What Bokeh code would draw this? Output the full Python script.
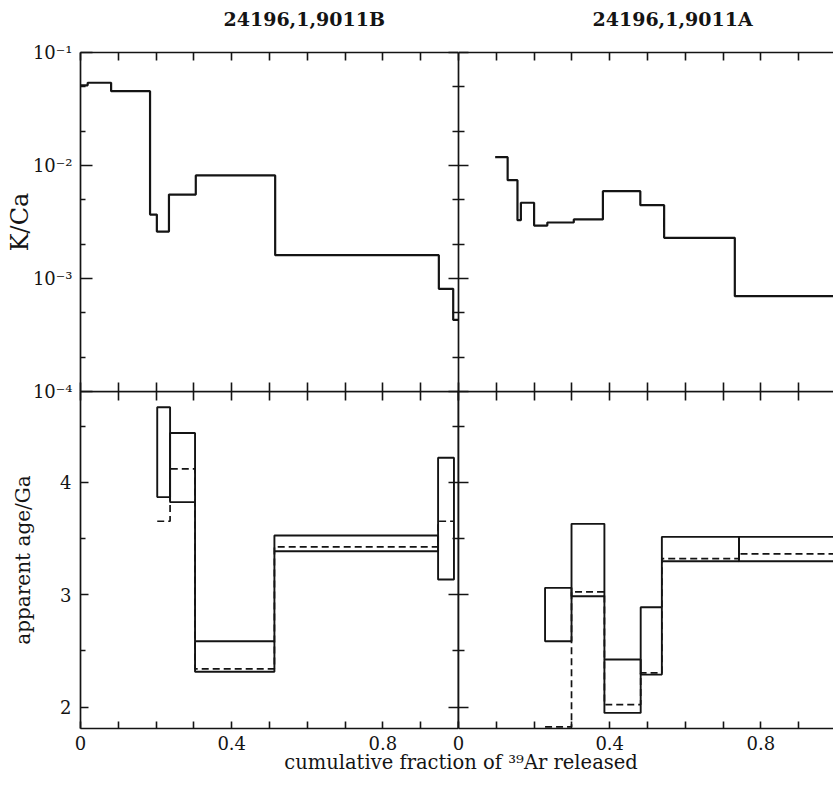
from bokeh.plotting import figure
from bokeh.models import (Range1d, LinearAxis, LogAxis, FixedTicker,
                          CustomJSTickFormatter, ColumnDataSource)
from bokeh.layouts import row, column
from bokeh.embed import file_html
from bokeh.resources import INLINE

# ---------------- data ----------------
panel_titles = ["24196,1,9011B", "24196,1,9011A"]

# K/Ca release spectra: step edges (cumulative 39Ar fraction) and values
kca_edges_B = [0.0, 0.019, 0.081, 0.184, 0.202, 0.234, 0.305, 0.515, 0.948, 0.986, 1.0]
kca_values_B = [0.0512, 0.054, 0.0455, 0.00368, 0.0026, 0.00553, 0.00817, 0.00161, 0.00081, 0.00043]

kca_edges_A = [0.097, 0.130, 0.156, 0.165, 0.200, 0.235, 0.305, 0.382, 0.481, 0.544, 0.731, 1.0]
kca_values_A = [0.01186, 0.00741, 0.00328, 0.00468, 0.00294, 0.00313, 0.00333, 0.00593,
                0.00446, 0.00229, 0.000697]

# apparent age spectra (Ga): boxes (upper / lower bound) and dashed values
age_edges_B = [0.203, 0.237, 0.303, 0.513, 0.946, 0.988]
age_hi_B = [4.67, 4.44, 2.587, 3.528, 4.22]
age_lo_B = [3.87, 3.825, 2.315, 3.388, 3.136]
age_dash_B = [3.655, 4.122, 2.341, 3.427, 3.655]

age_edges_A = [0.229, 0.299, 0.386, 0.482, 0.538, 0.742, 1.0]
age_hi_A = [3.062, 3.632, 2.424, 2.89, 3.516, 3.516]
age_lo_A = [2.587, 2.987, 1.949, 2.29, 3.299, 3.299]
age_dash_A = [1.825, 3.027, 2.023, 2.305, 3.323, 3.365]

x_label_ticks = [0, 0.4, 0.8]
x_all_ticks = [0.0, 0.1, 0.2, 0.3, 0.4, 0.5, 0.6, 0.7, 0.8, 0.9, 1.0]
kca_major_ticks = [1e-4, 1e-3, 1e-2, 1e-1]
kca_tick_labels = ["10\u207b\u00b9", "10\u207b\u00b2", "10\u207b\u00b3", "10\u207b\u2074"]
kca_minor_ticks = [2e-4, 5e-4, 2e-3, 5e-3, 2e-2, 5e-2]
age_major_ticks = [2, 3, 4]
age_minor_ticks = [2.5, 3.5, 4.5]

x_axis_title = "cumulative fraction of \u00b3\u2079Ar released"
kca_axis_title = "K/Ca"
age_axis_title = "apparent age/Ga"

# ---------------- style ----------------
FONT = "DejaVu Serif"
INK = "#141414"
TICK_FS = "18px"


def step_xy(edges, values):
    xs, ys = [], []
    for i, v in enumerate(values):
        xs += [edges[i], edges[i + 1]]
        ys += [v, v]
    return xs, ys


def connectors(edges, lo, hi):
    x0, y0, y1 = [], [], []
    for i in range(len(lo) - 1):
        xe = edges[i + 1]
        if hi[i] < lo[i + 1]:
            x0.append(xe); y0.append(hi[i]); y1.append(lo[i + 1])
        elif hi[i + 1] < lo[i]:
            x0.append(xe); y0.append(hi[i + 1]); y1.append(lo[i])
    return x0, y0, y1


def style_axis(ax, ticker, tin, minor_in=None, labels=False):
    ax.ticker = ticker
    ax.major_tick_in = tin
    ax.major_tick_out = 0
    ax.minor_tick_in = tin if minor_in is None else minor_in
    ax.minor_tick_out = 0
    ax.axis_line_color = INK
    ax.axis_line_width = 1.7
    ax.major_tick_line_color = INK
    ax.major_tick_line_width = 1.6
    ax.minor_tick_line_color = INK
    ax.minor_tick_line_width = 1.6
    if labels:
        ax.major_label_text_font = FONT
        ax.major_label_text_font_size = TICK_FS
        ax.major_label_text_color = INK
    else:
        ax.formatter = CustomJSTickFormatter(code="return '';")
        ax.major_label_text_font_size = "1px"
        ax.major_label_standoff = 0
    return ax


def x_ticker_all():
    return FixedTicker(ticks=x_all_ticks)


def x_ticker_labelled():
    return FixedTicker(ticks=x_label_ticks,
                       minor_ticks=[t for t in x_all_ticks if t not in x_label_ticks])


def kca_ticker():
    return FixedTicker(ticks=kca_major_ticks, minor_ticks=kca_minor_ticks)


def age_ticker():
    return FixedTicker(ticks=age_major_ticks, minor_ticks=age_minor_ticks)


def base_fig(x_end, fw, fh, ylog, yr, **borders):
    p = figure(frame_width=fw, frame_height=fh,
               x_range=Range1d(0, x_end), y_range=yr,
               y_axis_type="log" if ylog else "linear",
               x_axis_location=None, y_axis_location=None,
               toolbar_location=None, output_backend="svg", **borders)
    p.outline_line_color = None
    p.background_fill_color = None
    p.border_fill_color = None
    p.xgrid.visible = False
    p.ygrid.visible = False
    return p


FW_L, FW_R = 378, 375
X_END_R = FW_R / FW_L
kca_fmt = CustomJSTickFormatter(args=dict(labels=kca_tick_labels),
                                code="return labels[Math.round(-Math.log10(tick)) - 1];")

# ---------------- top-left: K/Ca, sample B ----------------
tl = base_fig(1.0, FW_L, 339, True, Range1d(1e-4, 1e-1),
              min_border_left=80, min_border_right=0, min_border_top=53, min_border_bottom=10)
ax = style_axis(LogAxis(), kca_ticker(), 12, 5, labels=True)
ax.formatter = kca_fmt
ax.major_label_standoff = 8
ax.axis_label = kca_axis_title
ax.axis_label_text_font = FONT
ax.axis_label_text_font_style = "normal"
ax.axis_label_text_font_size = "24px"
ax.axis_label_text_color = INK
ax.axis_label_standoff = -4
tl.add_layout(ax, "left")
tl.add_layout(style_axis(LogAxis(), kca_ticker(), 10, 6), "right")
tl.add_layout(style_axis(LinearAxis(), x_ticker_all(), 8), "above")
tl.add_layout(style_axis(LinearAxis(), x_ticker_all(), 9), "below")
xs, ys = step_xy(kca_edges_B, kca_values_B)
tl.line(xs, ys, line_color=INK, line_width=2.2)

# ---------------- top-right: K/Ca, sample A ----------------
tr = base_fig(X_END_R, FW_R, 339, True, Range1d(1e-4, 1e-1),
              min_border_left=0, min_border_right=0, min_border_top=53, min_border_bottom=10)
tr.add_layout(style_axis(LogAxis(), kca_ticker(), 10, 6), "left")
tr.add_layout(style_axis(LinearAxis(), x_ticker_all(), 8), "above")
tr.add_layout(style_axis(LinearAxis(), x_ticker_all(), 9), "below")
xs, ys = step_xy(kca_edges_A, kca_values_A)
tr.line(xs, ys, line_color=INK, line_width=2.2)

for p, t, off in ((tl, panel_titles[0], 143), (tr, panel_titles[1], 134)):
    p.title.text = t
    p.title.align = "left"
    p.title.offset = off
    p.title.standoff = 46
    p.title.text_font = FONT
    p.title.text_font_style = "bold"
    p.title.text_font_size = "19px"
    p.title.text_color = INK


# ---------------- bottom panels: apparent age ----------------
def age_panel(p, edges, lo, hi, dash):
    src = ColumnDataSource(dict(left=edges[:-1], right=edges[1:], bottom=lo, top=hi))
    xs, ys = step_xy(edges, dash)
    p.line(xs, ys, line_color=INK, line_width=1.7, line_dash="7 4")
    p.quad(left="left", right="right", bottom="bottom", top="top", source=src,
           fill_color=None, line_color=INK, line_width=1.9)
    cx, cy0, cy1 = connectors(edges, lo, hi)
    p.segment(x0=cx, y0=cy0, x1=cx, y1=cy1, line_color=INK, line_width=1.9)


bl = base_fig(1.0, FW_L, 337, False, Range1d(1.81, 4.81),
              min_border_left=80, min_border_right=0, min_border_top=0, min_border_bottom=28)
ax = style_axis(LinearAxis(), age_ticker(), 8, 5, labels=True)
ax.major_label_standoff = 9
ax.axis_label = age_axis_title
ax.axis_label_text_font = FONT
ax.axis_label_text_font_style = "normal"
ax.axis_label_text_font_size = "20px"
ax.axis_label_text_color = INK
ax.axis_label_standoff = 22
bl.add_layout(ax, "left")
bl.add_layout(style_axis(LinearAxis(), age_ticker(), 10, 6), "right")
bl.add_layout(style_axis(LinearAxis(), x_ticker_all(), 9), "above")
axb = style_axis(LinearAxis(), x_ticker_labelled(), 7, labels=True)
axb.major_label_standoff = 7
bl.add_layout(axb, "below")
age_panel(bl, age_edges_B, age_lo_B, age_hi_B, age_dash_B)

br = base_fig(X_END_R, FW_R, 337, False, Range1d(1.81, 4.81),
              min_border_left=12, min_border_right=0, min_border_top=0, min_border_bottom=28,
              margin=(0, 0, 0, -12))
br.add_layout(style_axis(LinearAxis(), age_ticker(), 10, 6), "left")
br.add_layout(style_axis(LinearAxis(), x_ticker_all(), 9), "above")
axb = style_axis(LinearAxis(), x_ticker_labelled(), 7, labels=True)
axb.major_label_standoff = 7
br.add_layout(axb, "below")
age_panel(br, age_edges_A, age_lo_A, age_hi_A, age_dash_A)

# ---------------- shared x-axis title ----------------
xl = figure(width=833, height=44, x_range=Range1d(0, 1), y_range=Range1d(0, 1),
            x_axis_location=None, y_axis_location=None, toolbar_location=None,
            output_backend="svg", min_border_left=88, min_border_right=0,
            min_border_top=0, min_border_bottom=0, margin=(-13, 0, 0, 0))
xl.outline_line_color = None
xl.background_fill_color = None
xl.border_fill_color = None
xl.xgrid.visible = False
xl.ygrid.visible = False
xl.title.text = x_axis_title
xl.title.align = "center"
xl.title.text_font = FONT
xl.title.text_font_style = "normal"
xl.title.text_font_size = "19.5px"
xl.title.text_color = INK
xl.line([0, 1], [0, 0], line_alpha=0)

layout = column(row(tl, tr, margin=(-18, 0, 0, 0)),
                row(bl, br, margin=(-10, 0, 0, 0)), xl)
open("out.html", "w").write(file_html(layout, INLINE))
